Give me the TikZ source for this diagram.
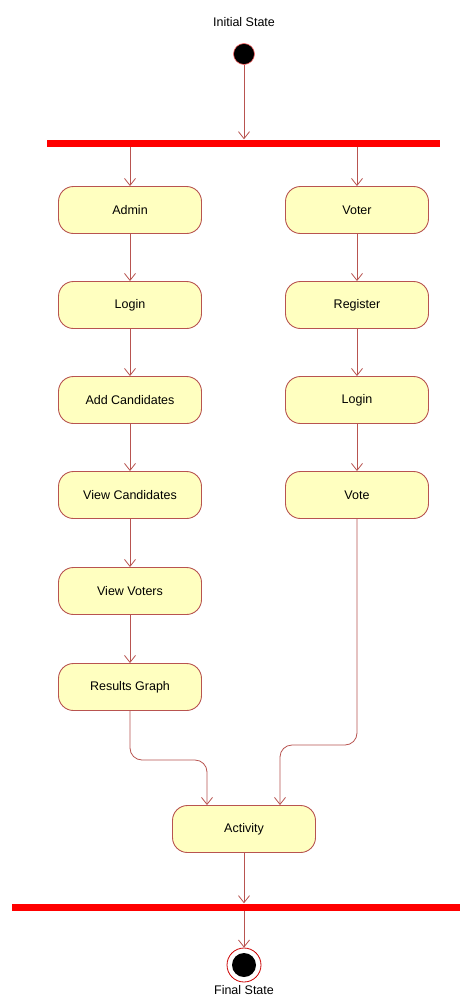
\documentclass[tikz,border=0pt]{standalone}
\usepackage{fontspec}
\setmainfont{Liberation Sans}
\usetikzlibrary{arrows.meta}
\definecolor{boxfill}{HTML}{FFFFC0}
\definecolor{boxline}{HTML}{B85450}
\definecolor{barred}{HTML}{FF0000}
\begin{document}
\begin{tikzpicture}[x=1pt,y=-1pt,
  act/.style={draw=boxline,fill=boxfill,line width=0.9pt,rounded corners=15pt,
    minimum width=143pt,minimum height=47pt,inner sep=0pt,font=\fontsize{12.5}{14}\selectfont},
  flow/.style={draw=boxline,line width=0.8pt,-{Straight Barb[length=7pt,width=11pt]}},
  bar/.style={fill=barred,draw=none,inner sep=0pt,minimum height=7pt},
  lbl/.style={font=\fontsize{12.5}{14}\selectfont,inner sep=0pt}]
\useasboundingbox[fill=white] (0,0) rectangle (467,999);
% start
\node[lbl] (tinit) at (244,22) {Initial State};
\node[circle,fill=black,draw=barred!60,line width=0.6pt,minimum size=21pt,inner sep=0pt] (init) at (244,54) {};
\node[bar,minimum width=393pt] (bar1) at (243.5,143) {};
% left column
\node[act] (admin) at (130,210) {Admin};
\node[act] (login1) at (130,305) {Login};
\node[act] (addc) at (130,400) {Add Candidates};
\node[act] (viewc) at (130,495) {View Candidates};
\node[act] (viewv) at (130,591) {View Voters};
\node[act] (res) at (130,687) {Results Graph};
% right column
\node[act] (voter) at (357,210) {Voter};
\node[act] (reg) at (357,305) {Register};
\node[act] (login2) at (357,400) {Login};
\node[act] (vote) at (357,495) {Vote};
% merge
\node[act] (activity) at (244,829) {Activity};
\node[bar,minimum width=448pt] (bar2) at (236,907) {};
\node[circle,draw=barred!80!black,fill=white,line width=0.8pt,minimum size=34pt,inner sep=0pt] (final) at (244,965) {};
\node[circle,fill=black,minimum size=24pt,inner sep=0pt] (finalin) at (final.center) {};
\node[lbl,anchor=north] (tfinal) at (244,985) {Final State};
% connectors
\draw[flow] (init) -- (init|-bar1.north);
\draw[flow] (admin|-bar1.south) -- (admin);
\draw[flow] (voter|-bar1.south) -- (voter);
\draw[flow] (admin) -- (login1);
\draw[flow] (login1) -- (addc);
\draw[flow] (addc) -- (viewc);
\draw[flow] (viewc) -- (viewv);
\draw[flow] (viewv) -- (res);
\draw[flow] (voter) -- (reg);
\draw[flow] (reg) -- (login2);
\draw[flow] (login2) -- (vote);
\coordinate (ja) at (207,760);
\coordinate (jb) at (280,745);
\draw[flow,rounded corners=12pt] (res.south) |- (ja) -- (ja|-activity.north);
\draw[flow,rounded corners=12pt] (vote.south) |- (jb) -- (jb|-activity.north);
\draw[flow] (activity) -- (activity|-bar2.north);
\draw[flow] (final|-bar2.south) -- (final.north);
\end{tikzpicture}
\end{document}
